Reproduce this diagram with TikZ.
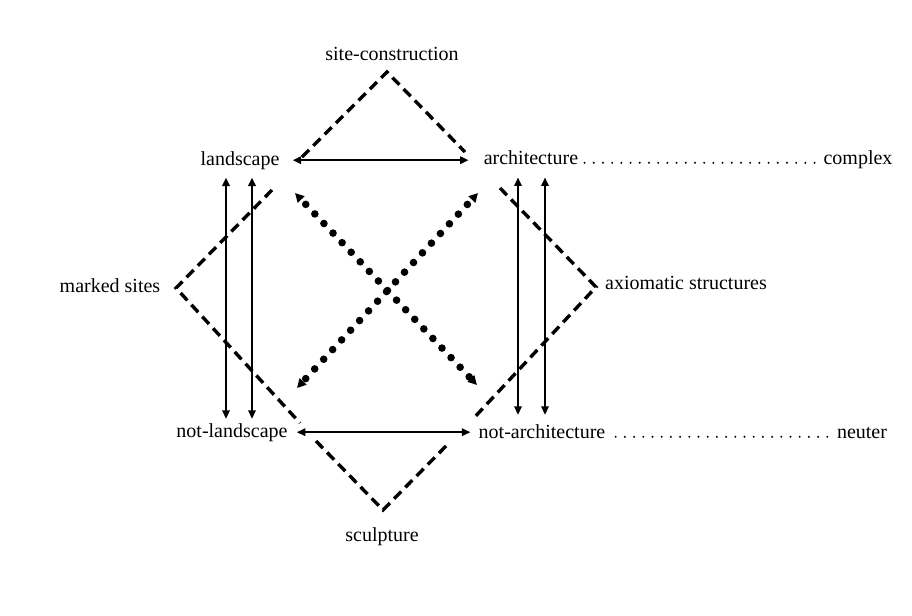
\documentclass[tikz,border=0pt]{standalone}
\usepackage{fontspec}
\setmainfont{Liberation Serif}
\usetikzlibrary{arrows.meta}

\begin{document}
\begin{tikzpicture}[
    x=0.5pt, y=-0.5pt,
    term/.style={anchor=base, inner sep=2pt, font=\fontsize{10}{12}\selectfont},
    dbl/.style={{Triangle[length=4.2pt,width=3.8pt]}-{Triangle[length=4.2pt,width=3.8pt]}, line width=0.8pt},
    dashline/.style={line width=1.7pt, dash pattern=on 5pt off 3pt},
    dotline/.style={{Triangle[length=4.5pt,width=4.5pt]}-{Triangle[length=4.5pt,width=4.5pt]}, line width=3.8pt, line cap=round, dash pattern=on 0pt off 6.6pt, dash phase=3pt},
    leader/.style={line width=1.1pt, line cap=round, dash pattern=on 0pt off 4.6pt}
  ]
    \useasboundingbox (0,0) rectangle (912,616);

    \node[term] (site) at (392,60) {site-construction};
    \node[term] (land) at (240,165) {landscape};
    \node[term] (arch) at (531,164) {architecture};
    \node[term] (complex) at (858,164) {complex};
    \node[term] (marked) at (110,292) {marked sites};
    \node[term] (axiom) at (686,289) {axiomatic structures};
    \node[term] (notland) at (232,437) {not-landscape};
    \node[term] (notarch) at (542,438) {not-architecture};
    \node[term] (neuter) at (862,438) {neuter};
    \node[term] (sculpt) at (382,541) {sculpture};

    \coordinate (scL) at (302,157);
    \coordinate (scTop) at (387,72);
    \coordinate (scR) at (465,152);
    \coordinate (msU) at (272,190);
    \coordinate (msTip) at (176,288);
    \coordinate (msL) at (300,423);
    \coordinate (axU) at (500,188);
    \coordinate (axTip) at (596,287);
    \coordinate (axL) at (472,420);
    \coordinate (scuL) at (316,441);
    \coordinate (scuTip) at (383,510);
    \coordinate (scuR) at (448,444);

    \draw[dashline] (scL) -- (scTop) -- (scR);
    \draw[dashline] (msU) -- (msTip) -- (msL);
    \draw[dashline] (axU) -- (axTip) -- (axL);
    \draw[dashline] (scuL) -- (scuTip) -- (scuR);

    \draw[dbl, shorten <=4.5pt, shorten >=5.5pt] (land.east) -- (land.east -| arch.west);
    \draw[dbl, shorten <=2.5pt, shorten >=2pt] (notland.east) -- (notland.east -| notarch.west);

    \draw[dbl, shorten <=2pt] ([xshift=-7pt]land.south) -- ([xshift=-7pt]land.south |- notland.north);
    \draw[dbl, shorten <=2pt] ([xshift=6pt]land.south) -- ([xshift=6pt]land.south |- notland.north);
    \draw[dbl, shorten <=4.5pt, shorten >=2.5pt] ([xshift=-6.5pt]arch.south) -- ([xshift=-6.5pt]arch.south |- notarch.north);
    \draw[dbl, shorten <=4.5pt, shorten >=2.5pt] ([xshift=7pt]arch.south) -- ([xshift=7pt]arch.south |- notarch.north);

    \coordinate (dLU) at (295,193);
    \coordinate (dRD) at (477,385);
    \coordinate (dRU) at (478,193);
    \coordinate (dLD) at (297,388);
    \draw[dotline] (dLU) -- (dRD);
    \draw[dotline] (dRU) -- (dLD);

    \draw[leader, shorten <=1pt] ([yshift=0.6pt]arch.base east) -- ([yshift=0.6pt]complex.base west);
    \draw[leader, shorten <=3pt] ([yshift=0.6pt]notarch.base east) -- ([yshift=0.6pt]neuter.base west);
  \end{tikzpicture}
\end{document}
